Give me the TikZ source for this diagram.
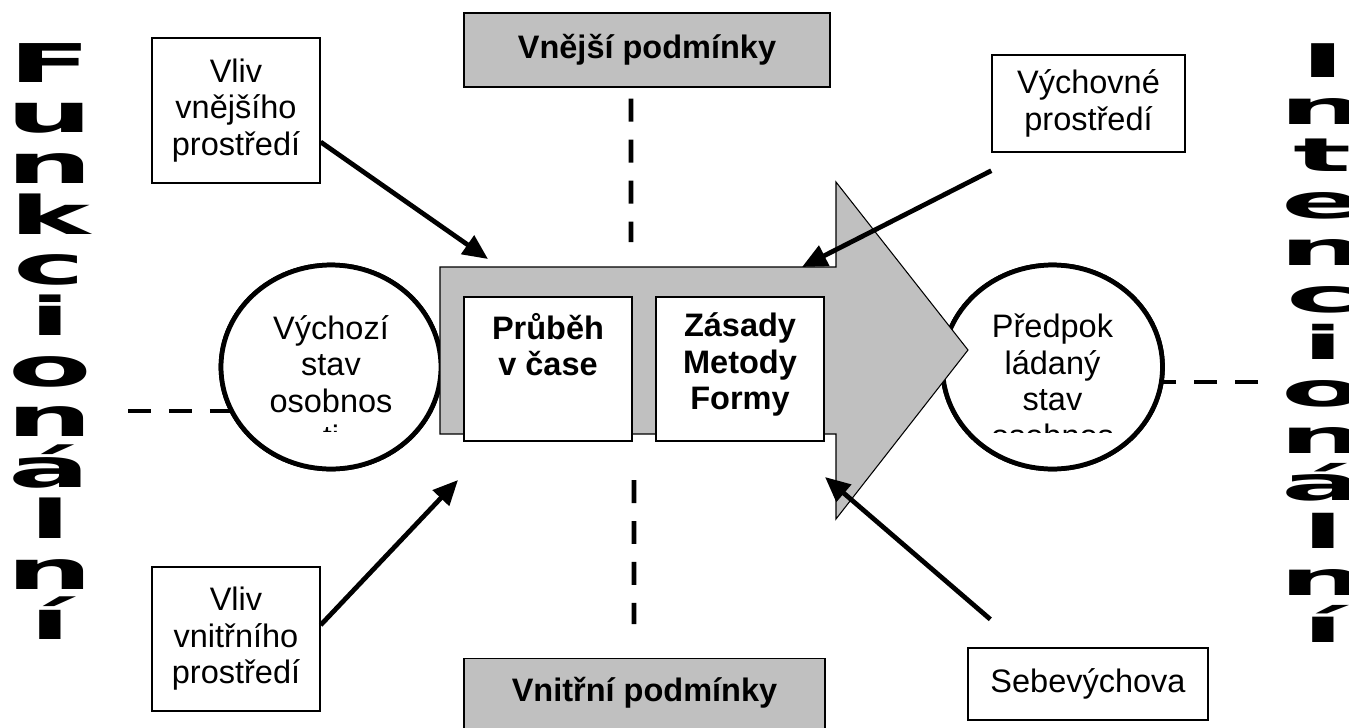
\documentclass[tikz,border=0pt]{standalone}
\usepackage{graphicx}
\usepackage{fontspec}
\setmainfont{Liberation Sans}
\newfontfamily\blockfont{DejaVu Sans Bold}
\usetikzlibrary{shapes.geometric,arrows.meta}
\definecolor{shade}{HTML}{C0C0C0}
\newcommand{\diagfont}{\fontsize{18.5}{20.8}\selectfont}

\begin{document}
\begin{tikzpicture}[x=0.02cm,y=-0.02cm]
   \tikzset{textbox/.style = {draw,line width=0.8pt,fill=white,align=center,inner sep=0pt,font=\diagfont},
            cond/.style = {textbox,fill=shade,font=\diagfont\bfseries},
            stage/.style = {textbox,minimum width=3.36cm,minimum height=2.88cm},
            state/.style = {ellipse,draw,line width=2.7pt,fill=white,minimum width=4.4cm,minimum height=4.08cm,inner sep=0pt},
            influence/.style = {line width=2.7pt,-{Triangle[length=0.5cm,width=0.44cm]}},
            divider/.style = {line width=2.7pt,dash pattern=on 0.46cm off 0.36cm},
            letter/.style = {anchor=base,inner sep=0pt,font=\blockfont\fontsize{20}{20}\selectfont}}
   \useasboundingbox (0,0) rectangle (1349,727);

   % side words
   \foreach \ch [count=\i] in {F,u,n,k,c,i,o,n,á,l,n,í}
      \node[letter] (funk\i) at (50,{82+50.7*(\i-1)}) {\scalebox{3.46}[1.52]{\ch}};
   \foreach \ch [count=\i] in {I,n,t,e,n,c,i,o,n,á,l,n,í}
      \node[letter] (inten\i) at (1323,{77+47.1*(\i-1)}) {\scalebox{3.46}[1.32]{\ch}};

   % start and goal
   \coordinate (funkEnd) at (128,411);
   \coordinate (intenEnd) at (1258,382);
   \node[state] (vychozi) at (331,367) {};
   \node[state] (predpok) at (1052.5,367) {};
   \draw[divider] (funkEnd) -- (funkEnd -| vychozi.center);
   \draw[divider] (intenEnd) -- (intenEnd -| predpok.center);
   \node[state] at (vychozi) {};
   \node[state] at (predpok) {};
   \begin{scope}
      \clip ([yshift=-1.3cm]vychozi.west) rectangle (vychozi.north east);
      \node[align=center,font=\diagfont,inner sep=0pt] (vychoziText) at ([yshift=-0.3cm]vychozi.center) {Výchozí\\stav\\osobnos\\ti};
   \end{scope}
   \begin{scope}
      \clip ([yshift=-1.32cm]predpok.west) rectangle (predpok.north east);
      \node[align=center,font=\diagfont,inner sep=0pt] (predpokText) at ([yshift=-0.28cm]predpok.center) {Předpok\\ládaný\\stav\\osobnos};
   \end{scope}

   % process arrow
   \draw[line width=0.6pt,fill=shade] (440,267) -- (836,267) -- (836,182) -- (968,350) -- (836,519) -- (836,434) -- (440,434) -- cycle;
   \node[stage] (prubeh) at (548,369) {\parbox[t][2.24cm][t]{3.3cm}{\centering\bfseries Průběh\\v čase}};
   \node[stage] (zasady) at (740,369) {\parbox[t][2.24cm][t]{3.3cm}{\centering\bfseries Zásady\\Metody\\Formy}};

   % conditions
   \node[cond,minimum width=7.32cm,minimum height=1.48cm] (vnejsi) at (647,50) {Vnější podmínky};
   \node[cond,minimum width=7.22cm,anchor=north,text height=0.86cm,text depth=0.88cm] (vnitrni) at (644.5,658) {Vnitřní podmínky};
   \coordinate (vnejsiEnd) at (631,242);
   \coordinate (vnitrniEnd) at (634,480);
   \draw[divider] ([xshift=-0.32cm,yshift=-0.22cm]vnejsi.south) -- (vnejsiEnd);
   \draw[divider] (vnitrniEnd) -- ([xshift=-0.21cm,yshift=0.68cm]vnitrni.north);

   % influences
   \node[textbox,minimum width=3.36cm,minimum height=2.9cm] (vlivVne) at (236,110.5) {Vliv\\vnějšího\\prostředí};
   \node[textbox,minimum width=3.36cm,minimum height=2.88cm] (vlivVni) at (236,639) {Vliv\\vnitřního\\prostředí};
   \node[textbox,minimum width=3.86cm,minimum height=1.94cm] (vychovne) at (1088.5,103.5) {Výchovné\\prostředí};
   \node[textbox,minimum width=4.8cm,minimum height=1.44cm] (sebe) at (1088,684) {Sebevýchova};

   \coordinate (tipVne) at (488,259);
   \coordinate (tipVni) at (458,480);
   \coordinate (tipVych) at (802,267);
   \coordinate (tipSebe) at (825,477);
   \draw[influence] ([yshift=-0.63cm]vlivVne.east) -- (tipVne);
   \draw[influence] ([yshift=0.28cm]vlivVni.east) -- (tipVni);
   \draw[influence] ([yshift=-0.36cm]vychovne.south west) -- (tipVych);
   \draw[influence] ([xshift=0.46cm,yshift=0.56cm]sebe.north west) -- (tipSebe);
\end{tikzpicture}
\end{document}
